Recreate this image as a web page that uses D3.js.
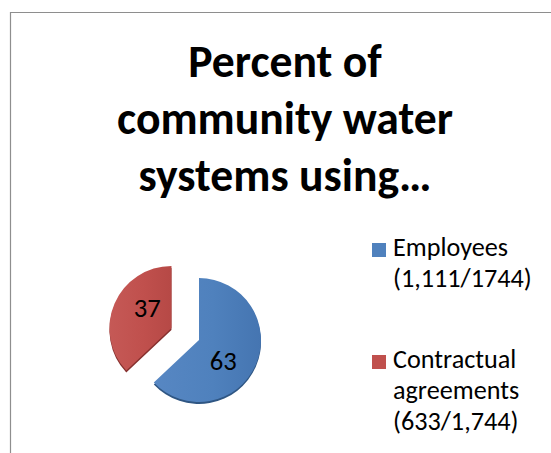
<!DOCTYPE html>
<html>
<head>
<meta charset="utf-8">
<script src="https://cdn.jsdelivr.net/npm/d3@7"></script>
<style>
  html, body { margin: 0; padding: 0; background: #fff; }
  svg { display: block; }
</style>
</head>
<body>
<svg id="chart" width="551" height="453"></svg>
<script>
// ---- data ----
const titleLines = ["Percent of", "community water", "systems using…"];
const categories = ["Employees", "Contractual agreements"];
const values = [63, 37];
const legendLines = [["Employees", "(1,111/1744)"], ["Contractual", "agreements", "(633/1,744)"]];
const colors = ["#4F81BD", "#C0504D"];
const colorsLight = ["#5787c3", "#c55956"];
const colorsDark = ["#4575b1", "#b64946"];
const rimColors = ["#2f5683", "#86302e"];
const explode = [0, 30];

const FONT = "Carlito, Lato, 'Open Sans', sans-serif";
const W = 551, H = 453;
const svg = d3.select("#chart");

svg.append("rect").attr("width", W).attr("height", H).attr("fill", "#fff");

// chart frame
svg.append("path")
  .attr("d", `M10.5,${H} V12.5 H${W}`)
  .attr("fill", "none")
  .attr("stroke", "#8e8e8e")
  .attr("stroke-width", 1.2);

// helper: fit font size so that a string gets a target width
function fitSize(str, target, weight) {
  const t = svg.append("text").attr("font-family", FONT).attr("font-size", 100)
    .attr("font-weight", weight).text(str);
  const w = t.node().getComputedTextLength();
  t.remove();
  return 100 * target / w;
}

// ---- title ----
const titleSize = fitSize(titleLines[1], 336, "bold");
const titleBase = [77, 134, 191];
svg.append("g").selectAll("text").data(titleLines).join("text")
  .attr("x", 285)
  .attr("y", (d, i) => titleBase[i])
  .attr("text-anchor", "middle")
  .attr("font-family", FONT)
  .attr("font-weight", "bold")
  .attr("font-size", titleSize)
  .attr("fill", "#000")
  .text(d => d);

// ---- pie ----
const cx = 199, cy = 340, R = 62;
const pie = d3.pie().sort(null).value(d => d)(values);
const arc = d3.arc().innerRadius(0).outerRadius(R);

const defs = svg.append("defs");
colors.forEach((c, i) => {
  const g = defs.append("linearGradient").attr("id", "grad" + i)
    .attr("x1", "0%").attr("y1", "0%").attr("x2", "100%").attr("y2", "0%");
  g.append("stop").attr("offset", "0%").attr("stop-color", colorsLight[i]);
  g.append("stop").attr("offset", "55%").attr("stop-color", colors[i]);
  g.append("stop").attr("offset", "100%").attr("stop-color", colorsDark[i]);
});

const pieG = svg.append("g").attr("transform", `translate(${cx},${cy})`);
const slices = pieG.selectAll("g.slice").data(pie).join("g")
  .attr("class", "slice")
  .attr("transform", (d, i) => {
    const m = (d.startAngle + d.endAngle) / 2;
    return `translate(${Math.sin(m) * explode[i]},${-Math.cos(m) * explode[i]})`;
  });

// rim (3D edge)
slices.append("path")
  .attr("d", arc)
  .attr("transform", "translate(0,2)")
  .attr("fill", (d, i) => rimColors[i]);
slices.append("path")
  .attr("d", arc)
  .attr("fill", (d, i) => `url(#grad${i})`);

// labels
const labelShift = 0.3;
const labelSize = fitSize("63", 27, "normal");
slices.append("text")
  .attr("transform", d => {
    const a = (d.startAngle + d.endAngle) / 2 + labelShift;
    return `translate(${Math.sin(a) * 32},${-Math.cos(a) * 32})`;
  })
  .attr("text-anchor", "middle")
  .attr("dy", "0.35em")
  .attr("font-family", FONT)
  .attr("font-size", labelSize)
  .attr("fill", "#000")
  .text(d => d.data);

// ---- legend ----
const legSize = fitSize(legendLines[0][0], 115, "normal");
const legFirstBase = [256, 368];
const lineGap = 31;
const leg = svg.append("g").selectAll("g").data(categories).join("g");
leg.append("rect")
  .attr("x", 372)
  .attr("y", (d, i) => legFirstBase[i] - 13)
  .attr("width", 14).attr("height", 14)
  .attr("fill", (d, i) => colors[i]);
leg.append("text")
  .attr("font-family", FONT)
  .attr("font-size", legSize)
  .attr("fill", "#000")
  .selectAll("tspan").data((d, i) => legendLines[i].map(t => ({ t, i }))).join("tspan")
  .attr("x", 393)
  .attr("y", (d, j) => legFirstBase[d.i] + j * lineGap)
  .text(d => d.t);
</script>
</body>
</html>
